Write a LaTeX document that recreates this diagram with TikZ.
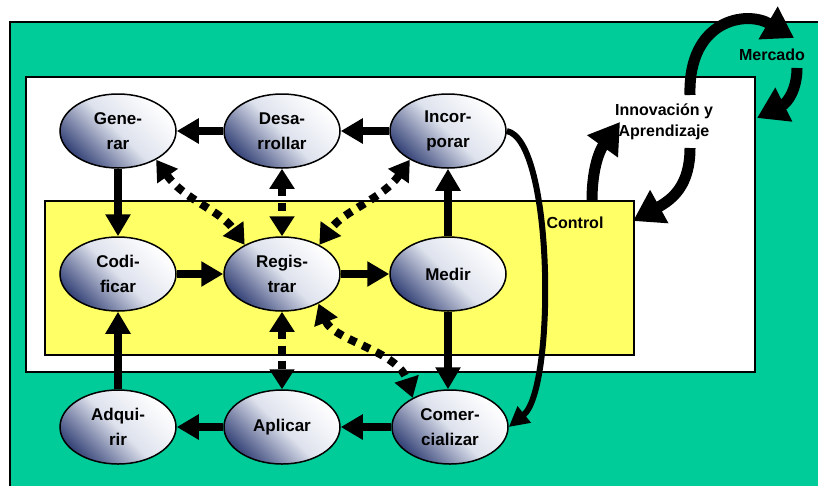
\documentclass[tikz,border=0pt]{standalone}
\usepackage{fontspec}
\setmainfont{Liberation Sans}
\usetikzlibrary{arrows.meta,shapes.geometric}
\definecolor{grn}{RGB}{0,204,153}
\definecolor{yel}{RGB}{255,255,102}
\definecolor{edark}{RGB}{55,68,120}
\definecolor{emid}{RGB}{222,226,237}
\begin{document}
\begin{tikzpicture}[x=1pt,y=-1pt,
  ell/.style={ellipse, draw=black, line width=1.5pt, minimum width=116pt, minimum height=74pt, inner sep=0pt,
    top color=white, bottom color=edark, middle color=emid, shading angle=-45,
    align=center, font=\bfseries\fontsize{17}{25}\selectfont},
  sarr/.style={line width=8pt, -{Triangle[length=22pt,width=24pt]}},
  darr/.style={line width=8pt, dash pattern=on 8pt off 7pt, {Triangle[length=20pt,width=24pt]}-{Triangle[length=20pt,width=24pt]}},
  carr/.style={line width=6pt, -{Triangle[length=20pt,width=20pt]}},
  barr/.style={line width=11pt, -{Triangle[length=30pt,width=36pt]}},
  lbl/.style={font=\bfseries\fontsize{16}{21}\selectfont, align=center}]

\useasboundingbox (0,0) rectangle (818,485);
\filldraw[fill=grn, draw=black, line width=2pt] (10,22) rectangle (840,510);
\filldraw[fill=white, draw=black, line width=1.5pt] (26,77) rectangle (755,372);
\filldraw[fill=yel, draw=black, line width=1.5pt] (45,201) rectangle (634,355);

\node[ell] (gen) at (118,131) {Gene-\\rar};
\node[ell] (des) at (282,131) {Desa-\\rrollar};
\node[ell] (inc) at (448,131) {Incor-\\porar};
\node[ell] (cod) at (118,274) {Codi-\\ficar};
\node[ell] (reg) at (282,274) {Regis-\\trar};
\node[ell] (med) at (448,274) {Medir};
\node[ell] (adq) at (118,427) {Adqui-\\rir};
\node[ell] (apl) at (282,427) {Aplicar};
\node[ell] (com) at (450,427) {Comer-\\cializar};

\node[lbl] (inn) at (664,122) {Innovación y\\Aprendizaje};
\node[lbl] (mer) at (772,55) {Mercado};
\node[lbl] (ctl) at (575,223) {Control};

% solid arrows
\draw[sarr] (des) -- (gen);
\draw[sarr] (inc) -- (des);
\draw[sarr] (gen) -- (cod);
\draw[sarr] (cod) -- (reg);
\draw[sarr] (reg) -- (med);
\draw[sarr] (med) -- (inc);
\draw[sarr] (med.south) -- (com.north -| med.south);
\draw[sarr] (com) -- (apl);
\draw[sarr] (apl) -- (adq);
\draw[sarr] (adq) -- (cod);

% dotted double arrows
\draw[darr] (gen.-37) .. controls +(28,40) and +(-25,-35) .. (reg.142);
\draw[darr] (des) -- (reg);
\draw[darr] (inc.-143) .. controls +(-28,40) and +(25,-35) .. (reg.38);
\draw[darr] (reg) -- (apl);
\draw[darr] (reg.-39) .. controls +(15,37) and +(-15,-47) .. (com.142);

% curved arrow Incorporar -> Comercializar
\draw[carr] (inc.east) .. controls +(47,9) and +(47,-38) .. (com.east);

% big arrows
\coordinate (c1) at (592,201);
\coordinate (i1) at (620,122);
\coordinate (i2) at (690,148);
\coordinate (c2) at (633,221);
\coordinate (i3) at (690,95);
\coordinate (m1) at (794,38);
\coordinate (m2) at (797,68);
\coordinate (w1) at (757,118);
\draw[barr] (c1) .. controls +(0,-38) and +(-18,25) .. (i1);
\draw[barr] (i2) .. controls +(0,37) and +(40,-22) .. (c2);
\draw[barr] (i3) .. controls +(-2,-75) and +(-48,-28) .. (m1);
\draw[barr] (m2) .. controls +(0,22) and +(30,-15) .. (w1);
\end{tikzpicture}
\end{document}
